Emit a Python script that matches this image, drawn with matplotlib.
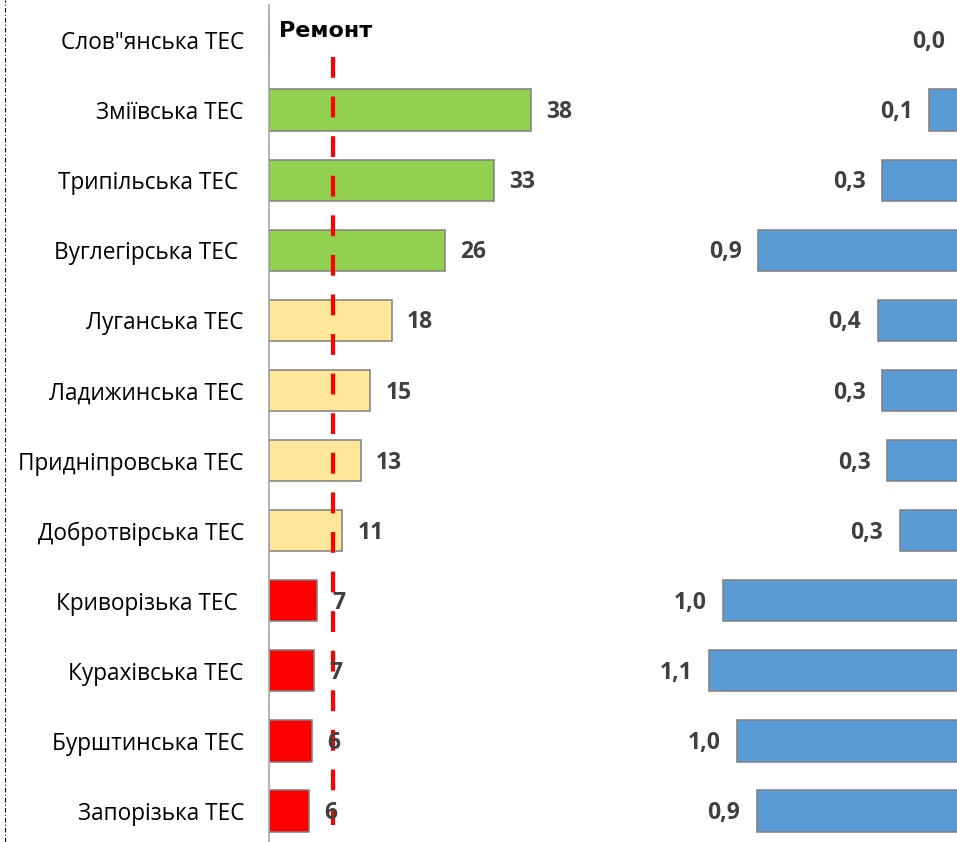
import matplotlib
matplotlib.use("Agg")
import matplotlib.pyplot as plt
from matplotlib.lines import Line2D

plt.rcParams['font.family'] = ['Open Sans', 'DejaVu Sans']

# ---- data ----
plants = ['Слов"янська ТЕС', 'Зміївська ТЕС', 'Трипільська ТЕС ', 'Вуглегірська ТЕС ',
          'Луганська ТЕС', 'Ладижинська ТЕС', 'Придніпровська ТЕС', 'Добротвірська ТЕС',
          'Криворізька ТЕС ', 'Курахівська ТЕС', 'Бурштинська ТЕС', 'Запорізька ТЕС']
left_vals = [0, 38, 32.6, 25.6, 17.8, 14.7, 13.3, 10.6, 7.0, 6.6, 6.2, 5.8]
left_colors = ['#92D050'] * 4 + ['#FFE699'] * 4 + ['#FF0000'] * 4
repair_level = 9.3
right_vals = [0.0, 0.14, 0.34, 0.87, 0.36, 0.34, 0.32, 0.265, 1.02, 1.08, 0.96, 0.876]

W, H = 957, 842
fig = plt.figure(figsize=(W / 100, H / 100), dpi=100)

def px_box(x0, x1, y0, y1):
    return [x0 / W, 1 - y1 / H, (x1 - x0) / W, (y1 - y0) / H]

rows = list(range(len(plants)))

##################################################
# left panel: repair bars
ax = fig.add_axes(px_box(269, 600, 5, 846))
ax.barh(rows, left_vals, height=0.59, color=left_colors, edgecolor='#7F7F7F', linewidth=1.1)
ax.set_xlim(0, 331 / 6.89)
ax.set_ylim(11.5, -0.5)
for i, v in enumerate(left_vals):
    if v > 0:
        ax.annotate(f"{v:.0f}", (v, i), xytext=(11, -1.5), textcoords='offset points',
                    ha='left', va='center', fontsize=16.5, fontweight='bold', color='#404040')
ax.set_yticks(rows)
ax.set_yticklabels(plants, fontsize=16.3, color='black')
ax.tick_params(axis='y', length=0, pad=18)
ax.set_xticks([])
for s in ['top', 'right', 'bottom']:
    ax.spines[s].set_visible(False)
ax.spines['left'].set_color('#A6A6A6')
ax.spines['left'].set_linewidth(1.2)

# red dashed repair line
ax.plot([repair_level, repair_level], [0.24, 11.2], color='#FF0000', lw=3,
        linestyle=(0, (5, 4.5)), solid_capstyle='butt')
ax.text(1.4, -0.13, 'Ремонт', fontsize=16, fontweight='heavy', color='black',
        family='DejaVu Sans', ha='left', va='center')

##################################################
# right panel: bars growing leftward
ax2 = fig.add_axes(px_box(600, 962, 5, 846))
ax2.barh(rows, right_vals, height=0.59, color='#5B9BD5', edgecolor='#7F7F7F', linewidth=1.1)
ax2.set_xlim(362 / 234, 0)
ax2.set_ylim(11.5, -0.5)
for i, v in enumerate(right_vals):
    ax2.annotate(f"{v:.1f}".replace('.', ','), (v, i), xytext=(-12, -1.5),
                 textcoords='offset points', ha='right', va='center',
                 fontsize=16.5, fontweight='bold', color='#404040')
ax2.axis('off')

# dash-dot border on the far left
fig.add_artist(Line2D([5 / W, 5 / W], [0, 1], color='black', lw=0.8,
                      linestyle=(0, (4, 2, 1, 2))))

fig.savefig('out.png', dpi=100)
